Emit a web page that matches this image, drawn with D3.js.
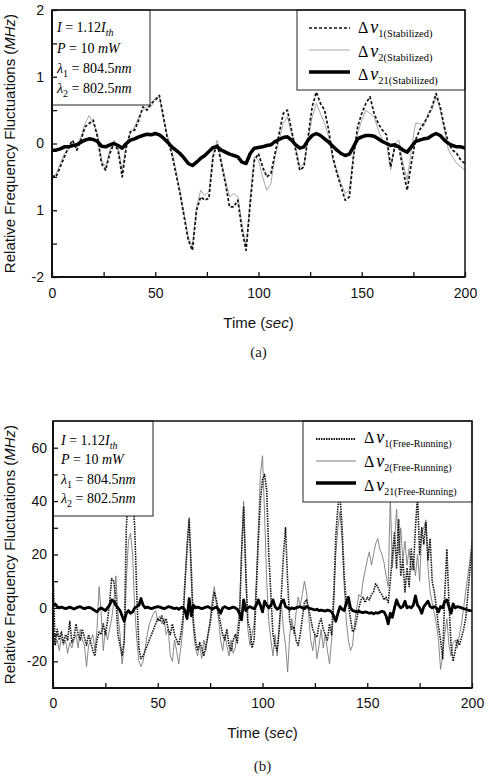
<!DOCTYPE html>
<html>
<head>
<meta charset="utf-8">
<script src="https://cdn.jsdelivr.net/npm/d3@7"></script>
<style>
  body { margin: 0; background: #fff; }
</style>
</head>
<body>
<svg id="chart" width="488" height="776"></svg>
<script>
// ---- data ----
// sample times (sec)
const tTop = d3.range(0, 201, 2);
const tBottom = d3.range(0, 201, 1);

// (a) stabilized, MHz, every 2 s
const d1Stab = [-0.48,-0.5,-0.35,-0.2,-0.05,0.05,-0.1,0.05,0.25,0.3,
  0.35,0.1,-0.3,-0.4,-0.15,0.0,-0.1,-0.5,-0.05,0.18,
  0.2,0.35,0.55,0.5,0.6,0.65,0.72,0.4,0.05,-0.15,
  -0.45,-0.75,-1.1,-1.45,-1.6,-1.0,-0.8,-0.85,-0.82,-0.2,
  0.0,-0.3,-0.6,-0.95,-0.95,-0.85,-1.3,-1.6,-0.9,-0.25,
  -0.15,-0.35,-0.5,-0.45,-0.15,0.15,0.45,0.5,0.2,-0.1,
  -0.4,-0.35,0.1,0.55,0.77,0.6,0.5,0.2,-0.2,-0.45,
  -0.65,-0.85,-0.8,-0.2,0.25,0.45,0.6,0.7,0.45,0.3,
  0.2,0.13,-0.35,-0.05,-0.05,-0.4,-0.7,-0.3,0.05,0.2,
  0.3,0.4,0.55,0.75,0.55,0.25,0.0,-0.1,-0.15,-0.25,
  -0.3];
const d2Stab = [-0.55,-0.45,-0.3,-0.15,-0.1,0.0,-0.05,0.1,0.3,0.42,
  0.3,0.15,-0.25,-0.35,-0.1,0.05,-0.05,-0.4,0.0,0.15,
  0.25,0.4,0.5,0.55,0.55,0.68,0.7,0.35,0.1,-0.1,
  -0.4,-0.7,-1.05,-1.4,-1.55,-0.95,-0.7,-0.78,-0.72,-0.15,
  0.05,-0.25,-0.55,-0.8,-0.75,-0.8,-1.2,-1.55,-0.8,-0.2,
  -0.25,-0.5,-0.7,-0.6,-0.2,0.05,0.3,0.4,0.15,-0.05,
  -0.35,-0.3,0.05,0.4,0.6,0.45,0.3,0.1,-0.25,-0.4,
  -0.6,-0.75,-0.7,-0.15,0.15,0.35,0.5,0.45,0.4,0.2,
  0.05,0.0,-0.4,0.0,0.05,-0.3,-0.55,-0.1,0.3,0.3,
  0.25,0.45,0.5,0.7,0.5,0.2,-0.1,-0.2,-0.3,-0.35,
  -0.4];
const d21Stab = [-0.1,-0.1,-0.08,-0.05,-0.05,-0.03,-0.02,0.02,0.05,0.07,
  0.06,0.03,-0.04,-0.05,-0.02,0.0,-0.03,-0.07,0.0,0.05,
  0.07,0.1,0.12,0.14,0.13,0.15,0.13,0.08,0.02,-0.05,
  -0.1,-0.15,-0.22,-0.3,-0.33,-0.28,-0.22,-0.18,-0.12,-0.06,
  -0.05,-0.1,-0.13,-0.16,-0.18,-0.2,-0.28,-0.3,-0.15,-0.07,
  -0.06,-0.05,-0.03,-0.02,0.03,0.06,0.09,0.1,0.05,-0.02,
  -0.07,-0.05,0.05,0.12,0.15,0.12,0.07,0.02,-0.04,-0.1,
  -0.15,-0.18,-0.16,-0.05,0.07,0.1,0.12,0.12,0.11,0.07,
  0.03,0.0,-0.03,-0.02,-0.05,-0.1,-0.13,-0.05,0.03,0.05,
  0.07,0.08,0.12,0.15,0.12,0.05,0.0,-0.03,-0.05,-0.05,
  -0.07];

// (b) free-running, MHz, every 1 s
const d1Free = [14,-14,-8,-12,-9,-13,-10,-12,-5,-13,
  -11,-6,-10,-12,-8,-11,-14,-10,-13,-16,
  -18,-12,-9,-10,-6,-10,-5,2,11,10,
  4,-10,-14,-18,-12,30,44,40,45,30,
  5,-15,-19,-18,-16,-14,-12,-10,-8,-6,
  -4,-5,-3,-6,-4,-8,-10,-6,-10,-12,
  -14,-10,-4,10,22,33,15,-5,-12,-16,
  -13,-15,-18,-14,-10,-6,0,6,3,-2,
  -6,-10,-12,-8,-14,-16,-12,-10,-13,-5,
  20,38,15,-5,-8,-15,-12,5,25,40,
  48,50,44,20,5,-10,-14,-16,-8,5,
  20,30,10,-5,-8,-7,-12,-14,-10,-4,
  2,3,0,-4,-8,-10,-11,-6,-4,-8,
  -10,-12,-6,-10,5,27,38,42,30,12,
  2,1,-4,-9,-8,-4,0,3,4,2,
  4,3,5,6,9,8,6,5,3,4,
  2,10,20,28,15,33,12,18,6,15,
  8,22,14,30,42,20,30,24,32,18,
  26,10,6,0,-7,-12,-19,5,22,2,
  -14,-20,-16,-12,-14,-11,-8,-4,5,14,
  22];
const d2Free = [-8,-14,-12,-16,-11,-14,-12,-17,-13,-15,
  -12,-10,-15,-8,-12,-14,-22,-14,-12,-10,
  -16,-8,8,-2,-16,-8,-12,-8,-4,2,
  12,-2,-10,-21,-14,10,25,28,20,0,
  -12,-20,-22,-20,-15,-10,-6,-4,-2,-1,
  -5,-3,-6,-4,-10,-8,-18,-20,-12,-16,
  -21,-15,-8,8,25,34,10,-8,-15,-18,
  -14,-19,-12,-16,-10,-4,3,8,1,-4,
  -12,-16,-10,-14,-18,-12,-17,-15,-8,-2,
  22,40,10,-8,-14,-10,-6,10,30,50,
  57,35,10,-5,-12,-18,-10,-18,-6,2,
  -8,-14,-24,-10,-4,-10,-2,4,1,5,
  10,6,-2,-12,-16,-10,-19,-14,-8,-15,
  -10,-16,-21,-12,0,20,30,36,25,8,
  -5,-12,-16,-14,-5,0,5,4,10,14,
  18,21,16,20,24,26,22,20,17,12,
  8,42,15,25,37,20,30,18,25,16,
  22,14,18,12,20,10,28,30,33,15,
  6,2,-2,-6,-12,-23,-18,-10,-4,-14,
  -18,-13,-12,-15,-10,-6,0,6,12,18,
  25];
const d21Free = [1,1.5,0.5,0,0.3,0,-0.3,0,0.3,0,
  -0.4,0,0.3,0.5,0,-0.3,0,0.2,0,-0.5,
  -1,-1.5,-0.5,0,-0.5,-1,0,1,3,2.5,
  1,0,-1,-3,-5,-2,-1,-2,-1.5,0,
  0.5,1,3.5,1,0,0.3,0,-0.3,0,0.3,
  0.5,0.3,0,-0.3,0,0.5,0.3,0,-0.3,0,
  -0.5,0,0.3,-1,-4,3.5,-3,1,0,0.3,
  0,-0.3,0,0.3,0.5,0,-0.5,0,0.3,-0.5,
  -2,0,0.5,0,-0.3,0,0.3,0,-0.5,-2,
  -4.5,3,-1,0,0.5,0,-0.3,1,3,1,
  -1.5,2.5,1,0,1,3,0.5,-0.5,0,2,
  3,0.5,0,-0.5,0,-0.3,0,0.3,0.5,0,
  -0.3,0.5,0,-0.3,-0.5,-0.8,-0.5,-1,-0.8,-1,
  -1.2,-0.8,-1,-1.5,-3,-5,-2,0.5,-0.5,-1,
  2,4,0,-1,-1.2,-1.5,-1.3,-1.6,-1.8,-1.5,
  -1.7,-2,-1.8,-2.2,-1.8,-2,-1.6,-1.3,-1.5,-3,
  -6,-2,-3.5,0,3,1,0,0.5,2.5,0,
  0.5,0,1,4.5,1,0,-2,0.5,1.5,2.5,
  0.5,0,0.5,0,-1.5,0.5,0,2.5,3,0.5,
  -2,1.5,0,0.5,0.3,0,-0.3,-0.5,-0.8,-1,
  -1];

// ticks
const xMajor = [0, 50, 100, 150, 200];
const xMinor = [25, 75, 125, 175];
const yMajorTop = [-2, -1, 0, 1, 2];
const yLabelsTop = ['-2', '1', '0', '1', '2'];
const yMinorTop = [-1.5, -0.5, 0.5, 1.5];
const yMajorBottom = [-20, 0, 20, 40, 60];
const yLabelsBottom = ['-20', '0', '20', '40', '60'];
const yMinorBottom = [-10, 10, 30, 50];

// legend subscripts
const legendTop = ['1(Stabilized)', '2(Stabilized)', '21(Stabilized)'];
const legendBottom = ['1(Free-Running)', '2(Free-Running)', '21(Free-Running)'];

// annotation lines: [text, style] style: i = italic, s = subscript, is = italic subscript
const noteLines = [
  [['I', 'i'], [' = 1.12', ''], ['I', 'i'], ['th', 'is']],
  [['P', 'i'], [' = 10 ', ''], ['mW', 'i']],
  [['λ', 'i'], ['1', 's'], [' = 804.5', ''], ['nm', 'i']],
  [['λ', 'i'], ['2', 's'], [' = 802.5', ''], ['nm', 'i']]
];

const SANS = '"Liberation Sans", Arial, sans-serif';
const SERIF = '"Liberation Serif", "Times New Roman", serif';

let svg = d3.select('#chart');

function richText(text, segs, subSize) {
  let shifted = false;
  segs.forEach(s => {
    let span = text.append('tspan').text(s[0]);
    if (s[1].indexOf('i') >= 0) span.attr('font-style', 'italic');
    if (s[1].indexOf('s') >= 0) {
      span.attr('font-size', subSize).attr('dy', shifted ? 0 : 4);
      shifted = true;
    } else if (shifted) {
      span.attr('dy', -4);
      shifted = false;
    }
  });
}

function drawPanel(p) {
  let x = d3.scaleLinear().domain([0, 200]).range([p.left, p.right]);
  let y = d3.scaleLinear().domain(p.yDomain).range([p.bottom, p.top]);

  let clipId = 'clip-' + p.id;
  svg.append('clipPath').attr('id', clipId)
    .append('rect')
    .attr('x', p.left)
    .attr('y', p.top)
    .attr('width', p.right - p.left)
    .attr('height', p.bottom - p.top);

  // data lines (gray first so it sits underneath)
  p.drawOrder.forEach(k => {
    let s = p.series[k];
    let line = d3.line()
      .x((d, i) => x(s.t[i]))
      .y(d => y(d));
    svg.append('path')
      .datum(s.values)
      .attr('clip-path', 'url(#' + clipId + ')')
      .attr('d', line)
      .attr('fill', 'none')
      .attr('stroke', s.color)
      .attr('stroke-width', s.width)
      .attr('stroke-dasharray', s.dash)
      .attr('stroke-linejoin', 'round');
  });

  // annotation box
  svg.append('rect')
    .attr('x', p.left)
    .attr('y', p.top)
    .attr('width', p.note.right - p.left)
    .attr('height', p.note.bottom - p.top)
    .attr('fill', '#fff')
    .attr('stroke', '#222')
    .attr('stroke-width', 1);
  noteLines.forEach((segs, i) => {
    let t = svg.append('text')
      .attr('x', p.note.x)
      .attr('y', p.note.ys[i])
      .attr('font-family', SERIF)
      .attr('font-size', 14);
    richText(t, segs, 10);
  });

  // legend box
  svg.append('rect')
    .attr('x', p.legend.left)
    .attr('y', p.top)
    .attr('width', p.right - p.legend.left)
    .attr('height', p.legend.bottom - p.top)
    .attr('fill', '#fff')
    .attr('stroke', '#222')
    .attr('stroke-width', 1);
  p.series.forEach((s, i) => {
    svg.append('line')
      .attr('x1', p.legend.x1)
      .attr('x2', p.legend.x2)
      .attr('y1', p.legend.lineYs[i])
      .attr('y2', p.legend.lineYs[i])
      .attr('stroke', s.color)
      .attr('stroke-width', s.legendWidth)
      .attr('stroke-dasharray', s.dash);
    let t = svg.append('text')
      .attr('x', p.legend.tx)
      .attr('y', p.legend.textYs[i])
      .attr('font-family', SERIF)
      .attr('font-size', 16);
    t.append('tspan').text('Δ');
    t.append('tspan').text('ν').attr('font-style', 'italic').attr('font-size', 18).attr('dx', 2);
    t.append('tspan').text(p.legend.labels[i]).attr('font-size', p.legend.subSize).attr('dy', 4);
  });

  // axes with inward ticks
  let xAxis = d3.axisBottom(x)
    .tickValues(xMajor.concat(xMinor))
    .tickSizeInner(-5)
    .tickSizeOuter(0)
    .tickPadding(p.xPad)
    .tickFormat(d => xMajor.indexOf(d) >= 0 ? d : '');
  let gx = svg.append('g')
    .attr('transform', 'translate(0,' + p.bottom + ')')
    .call(xAxis);
  let yAxis = d3.axisLeft(y)
    .tickValues(p.yMajor.concat(p.yMinor))
    .tickSizeInner(-5)
    .tickSizeOuter(0)
    .tickPadding(p.yPad)
    .tickFormat(d => {
      let k = p.yMajor.indexOf(d);
      return k >= 0 ? p.yLabels[k] : '';
    });
  let gy = svg.append('g')
    .attr('transform', 'translate(' + p.left + ',0)')
    .call(yAxis);
  [gx, gy].forEach(g => {
    g.select('.domain').remove();
    g.selectAll('line').attr('stroke', '#111').attr('stroke-width', 1.3);
    g.selectAll('text')
      .attr('font-family', SANS)
      .attr('font-size', 14)
      .attr('fill', '#111');
  });

  // frame
  svg.append('rect')
    .attr('x', p.left)
    .attr('y', p.top)
    .attr('width', p.right - p.left)
    .attr('height', p.bottom - p.top)
    .attr('fill', 'none')
    .attr('stroke', '#111')
    .attr('stroke-width', 1.5);
  svg.append('path')
    .attr('d', 'M' + p.left + ',' + p.top + 'V' + p.bottom + 'H' + p.right)
    .attr('fill', 'none')
    .attr('stroke', '#111')
    .attr('stroke-width', 2);

  // axis titles
  let xt = svg.append('text')
    .attr('x', (p.left + p.right) / 2)
    .attr('y', p.xTitleY)
    .attr('text-anchor', 'middle')
    .attr('font-family', SANS)
    .attr('font-size', 15)
    .attr('fill', '#111');
  xt.append('tspan').text('Time (');
  xt.append('tspan').text('sec').attr('font-style', 'italic');
  xt.append('tspan').text(')');

  let yt = svg.append('text')
    .attr('transform', 'translate(15,' + (p.top + p.bottom) / 2 + ') rotate(-90)')
    .attr('text-anchor', 'middle')
    .attr('font-family', SANS)
    .attr('font-size', 15)
    .attr('fill', '#111');
  yt.append('tspan').text('Relative Frequency Fluctuations (');
  yt.append('tspan').text('MHz').attr('font-style', 'italic');
  yt.append('tspan').text(')');

  svg.append('text')
    .attr('x', (p.left + p.right) / 2)
    .attr('y', p.captionY)
    .attr('text-anchor', 'middle')
    .attr('font-family', SERIF)
    .attr('font-size', 15)
    .attr('fill', '#222')
    .text(p.caption);
}

// panel (a)
drawPanel({
  id: 'a',
  left: 52, right: 465, top: 10, bottom: 277,
  yDomain: [-2, 2],
  yMajor: yMajorTop, yLabels: yLabelsTop, yMinor: yMinorTop,
  xPad: 11, yPad: 8,
  xTitleY: 328, captionY: 357, caption: '(a)',
  note: { right: 150, bottom: 105, x: 57, ys: [32, 53, 73, 93] },
  legend: { left: 297, bottom: 90, x1: 309, x2: 350, tx: 358,
    lineYs: [28, 50, 72], textYs: [33, 57, 80], labels: legendTop, subSize: 10.5 },
  drawOrder: [1, 0, 2],
  series: [
    { t: tTop, values: d1Stab, color: '#111', width: 1.7, legendWidth: 1.7, dash: '3,2' },
    { t: tTop, values: d2Stab, color: '#a8a8a8', width: 1, legendWidth: 1, dash: null },
    { t: tTop, values: d21Stab, color: '#000', width: 3.5, legendWidth: 3.5, dash: null }
  ]
});

// panel (b)
drawPanel({
  id: 'b',
  left: 53, right: 472, top: 421, bottom: 688,
  yDomain: [-30, 70],
  yMajor: yMajorBottom, yLabels: yLabelsBottom, yMinor: yMinorBottom,
  xPad: 10, yPad: 6,
  xTitleY: 738, captionY: 771, caption: '(b)',
  note: { right: 153, bottom: 516, x: 61, ys: [445, 464, 484, 503] },
  legend: { left: 303, bottom: 502, x1: 316, x2: 356, tx: 364,
    lineYs: [439, 461, 483], textYs: [443, 467, 491], labels: legendBottom, subSize: 10 },
  drawOrder: [1, 0, 2],
  series: [
    { t: tBottom, values: d1Free, color: '#111', width: 1.6, legendWidth: 1.8, dash: '1.5,1' },
    { t: tBottom, values: d2Free, color: '#7a7a7a', width: 0.9, legendWidth: 1, dash: null },
    { t: tBottom, values: d21Free, color: '#000', width: 2.8, legendWidth: 3.5, dash: null }
  ]
});
</script>
</body>
</html>
